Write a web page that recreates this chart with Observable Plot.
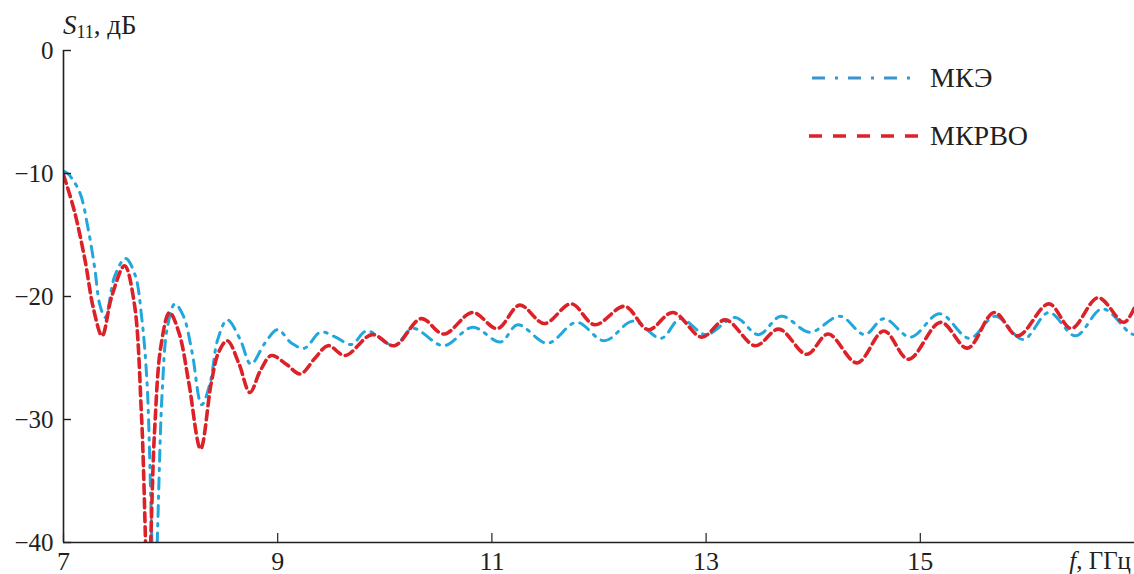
<!DOCTYPE html>
<html>
<head>
<meta charset="utf-8">
<script src="https://cdn.jsdelivr.net/npm/d3@7"></script>
<script src="https://cdn.jsdelivr.net/npm/@observablehq/plot@0.6"></script>
<style>
  html, body { margin: 0; padding: 0; background: #fff; }
  #wrap { position: relative; width: 1134px; height: 574px; }
  #over { position: absolute; left: 0; top: 0; pointer-events: none; }
</style>
</head>
<body>
<div id="wrap"></div>
<script>
// ---- data ----
const seriesNames = ["МКЭ", "МКРВО"];

const freqFEM = [7.00, 7.04, 7.15, 7.23, 7.29, 7.34, 7.39, 7.48, 7.58, 7.67, 7.73, 7.78, 7.85, 7.92, 7.97, 8.04, 8.12, 8.20, 8.29, 8.37, 8.44, 8.53, 8.65, 8.75, 8.88, 9.00, 9.13, 9.25, 9.40, 9.54, 9.69, 9.83, 10.09, 10.26, 10.55, 10.82, 11.08, 11.24, 11.52, 11.79, 12.05, 12.32, 12.58, 12.76, 13.00, 13.27, 13.49, 13.70, 13.97, 14.25, 14.48, 14.66, 14.91, 15.18, 15.46, 15.70, 15.96, 16.20, 16.45, 16.70, 16.96, 17.00];
const s11FEM  = [-9.8, -10.0, -11.5, -14.5, -17.6, -20.7, -21.7, -18.3, -16.9, -18.3, -21.7, -27.0, -44.0, -28.0, -22.5, -20.6, -21.6, -24.5, -28.8, -27.0, -23.5, -21.9, -23.5, -25.5, -23.8, -22.7, -23.8, -24.2, -22.9, -23.3, -23.9, -22.8, -24.0, -22.6, -24.0, -22.5, -23.7, -22.3, -23.8, -22.1, -23.6, -22.0, -23.4, -21.8, -23.1, -21.7, -23.1, -21.6, -22.9, -21.6, -23.1, -21.8, -23.3, -21.4, -23.4, -21.6, -23.5, -21.3, -23.2, -21.0, -23.0, -23.1];

const freqMoM = [7.00, 7.10, 7.20, 7.28, 7.36, 7.45, 7.57, 7.66, 7.73, 7.79, 7.85, 7.91, 7.99, 8.08, 8.17, 8.28, 8.38, 8.45, 8.53, 8.64, 8.74, 8.84, 8.94, 9.08, 9.21, 9.35, 9.47, 9.63, 9.88, 10.09, 10.34, 10.55, 10.82, 11.05, 11.26, 11.49, 11.74, 11.96, 12.24, 12.46, 12.69, 12.96, 13.18, 13.46, 13.68, 13.94, 14.14, 14.41, 14.66, 14.89, 15.19, 15.44, 15.69, 15.91, 16.20, 16.41, 16.66, 16.90, 17.00];
const s11MoM  = [-10.1, -13.0, -17.0, -21.0, -23.2, -20.0, -17.5, -20.5, -30.0, -44.0, -31.0, -24.0, -21.3, -23.0, -27.0, -32.4, -27.0, -24.5, -23.6, -25.5, -27.8, -26.0, -24.8, -25.5, -26.3, -25.0, -24.0, -24.8, -23.1, -24.0, -21.8, -23.05, -21.3, -22.6, -20.7, -22.2, -20.6, -22.3, -20.8, -22.7, -21.3, -23.3, -21.9, -24.0, -22.65, -24.7, -23.05, -25.4, -22.8, -25.1, -22.1, -24.2, -21.3, -23.2, -20.6, -22.6, -20.1, -22.1, -20.9];

const yTicks = [0, -10, -20, -30, -40];
const yTickLabels = ["0", "−10", "−20", "−30", "−40"];
const xTicks = [7, 9, 11, 13, 15];
const xTickLabels = ["7", "9", "11", "13", "15"];

// ---- build tables ----
const fem = freqFEM.map((f, i) => ({f, s: s11FEM[i]}));
const mom = freqMoM.map((f, i) => ({f, s: s11MoM[i]}));

const ink = "#231f20";
const blue = "#22a7dc";
const red = "#dc2229";
const serif = "'Liberation Serif', 'Times New Roman', serif";

const chart = Plot.plot({
  width: 1134,
  height: 574,
  marginTop: 50,
  marginLeft: 63,
  marginRight: 0,
  marginBottom: 32,
  style: {fontFamily: serif, fontSize: "25px", color: ink, background: "#fff", overflow: "visible"},
  x: {domain: [7, 17]},
  y: {domain: [-40, 0]},
  marks: [
    Plot.line(fem, {x: "f", y: "s", stroke: blue, strokeWidth: 3, strokeDasharray: "11,7,2.5,7", curve: "catmull-rom", clip: true}),
    Plot.line(mom, {x: "f", y: "s", stroke: red, strokeWidth: 3.6, strokeDasharray: "9,5", curve: "catmull-rom", clip: true}),
    Plot.ruleX([7], {y1: -40, y2: 0, stroke: ink, strokeWidth: 1.6}),
    Plot.ruleY([-40], {stroke: ink, strokeWidth: 1.6}),
    Plot.axisY(yTicks, {tickSize: -8, tickPadding: 18, stroke: ink, strokeWidth: 1.4, fill: ink, fontSize: 25,
      tickFormat: d => yTickLabels[yTicks.indexOf(d)], label: null}),
    Plot.axisX(xTicks, {tickSize: -9, tickPadding: 18, stroke: ink, strokeWidth: 1.2, fill: ink, fontSize: 26,
      tickFormat: d => xTickLabels[xTicks.indexOf(d)], label: null})
  ]
});

const wrap = document.getElementById("wrap");
wrap.appendChild(chart);

// ---- overlay texts: axis titles and legend ----
const NS = "http://www.w3.org/2000/svg";
const over = document.createElementNS(NS, "svg");
over.setAttribute("id", "over");
over.setAttribute("width", 1134);
over.setAttribute("height", 574);
over.setAttribute("font-family", serif);
over.innerHTML = `
  <text x="63" y="34" font-size="27" fill="${ink}"><tspan font-style="italic">S</tspan><tspan font-size="18" dy="4">11</tspan><tspan dy="-4">, дБ</tspan></text>
  <text x="1131" y="569" font-size="25" fill="${ink}" text-anchor="end"><tspan font-style="italic">f</tspan>, ГГц</text>
  <line x1="812" y1="78" x2="918" y2="78" stroke="#3d93d0" stroke-width="3.2" stroke-dasharray="13,10,3,10"/>
  <text x="930" y="87" font-size="28" fill="${ink}">${seriesNames[0]}</text>
  <line x1="809" y1="136" x2="921" y2="136" stroke="${red}" stroke-width="3.6" stroke-dasharray="13,11"/>
  <text x="930" y="145" font-size="28" fill="${ink}">${seriesNames[1]}</text>
`;
wrap.appendChild(over);
</script>
</body>
</html>
